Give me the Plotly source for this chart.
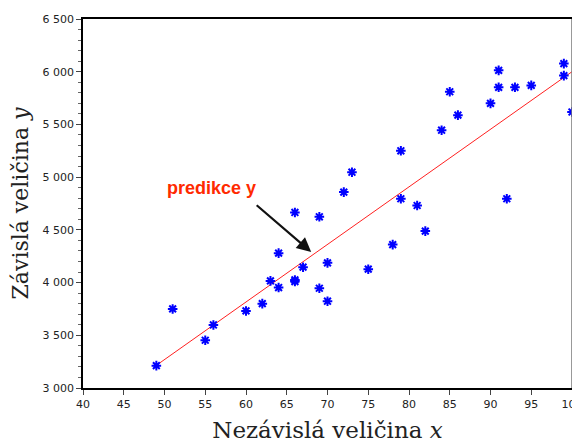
import plotly.graph_objects as go

# data
x_vals = [49, 51, 55, 56, 60, 62, 63, 64, 64, 66, 66, 66, 67, 69, 69, 70, 70, 72, 73, 75,
          78, 79, 79, 81, 82, 84, 85, 86, 90, 91, 91, 92, 93, 95, 99, 99, 100]
y_vals = [3212, 3750, 3453, 3598, 3731, 3800, 4016, 3953, 4279, 4025, 4010, 4665, 4146, 3946, 4624, 4187, 3823, 4858, 5047, 4127,
          4360, 5250, 4795, 4731, 4488, 5445, 5810, 5588, 5700, 6013, 5852, 4795, 5852, 5870, 6077, 5963, 5618]
fit_x = [49, 100]
fit_y = [3215, 6000]
x_ticks = [40, 45, 50, 55, 60, 65, 70, 75, 80, 85, 90, 95, 100]
y_ticks = [3000, 3500, 4000, 4500, 5000, 5500, 6000, 6500]

fig = go.Figure()
fig.add_trace(go.Scatter(x=fit_x, y=fit_y, mode="lines",
                         line=dict(color="#ff2020", width=1), showlegend=False))
fig.add_trace(go.Scatter(x=x_vals, y=y_vals, mode="markers",
                         marker=dict(symbol="asterisk-open", size=8, color="#0000ff",
                                     line=dict(color="#0000ff", width=2)),
                         showlegend=False))

fig.add_annotation(x=68, y=4290, ax=-56, ay=-48,
                   xref="x", yref="y", text="", showarrow=True,
                   arrowhead=2, arrowsize=1.3, arrowwidth=2.2, arrowcolor="#111111")
fig.add_annotation(x=(165 - 83) / 489, y=(388 - 188) / 369, xref="paper", yref="paper",
                   text="<b>predikce y</b>", showarrow=False, xanchor="left", yanchor="middle",
                   font=dict(family="Liberation Sans, Arial", size=18, color="#ff2a00"))

fig.add_shape(type="line", xref="x domain", yref="y domain", x0=1, x1=1, y0=0, y1=1,
              line=dict(color="#777777", width=1.5))

fig.update_layout(
    width=572, height=435,
    margin=dict(l=75, r=8, t=11, b=55),
    plot_bgcolor="white", paper_bgcolor="white",
    separators=", ",
    font=dict(family="DejaVu Sans", size=11, color="#222222"),
    xaxis=dict(range=[40, 100], tickvals=x_ticks, showgrid=False, zeroline=False,
               automargin=False, ticklabeloverflow="allow",
               showline=True, linecolor="black", linewidth=1.5, mirror=True,
               ticks="outside", ticklen=5, tickcolor="#444444",
               title=dict(text="Nezávislá veličina <i>x</i>", standoff=18,
                          font=dict(family="DejaVu Serif", size=23, color="#222222"))),
    yaxis=dict(range=[3000, 6500], tickvals=y_ticks, showgrid=False, zeroline=False,
               automargin=False, separatethousands=True,
               showline=True, linecolor="black", linewidth=1.5,
               ticks="outside", ticklen=5, tickcolor="#444444",
               minor=dict(ticks="outside", ticklen=3, dtick=100, tickcolor="#666666"),
               title=dict(text="Závislá veličina <i>y</i>", standoff=15,
                          font=dict(family="DejaVu Serif", size=22, color="#222222"))),
)

fig.write_html("out.html")
